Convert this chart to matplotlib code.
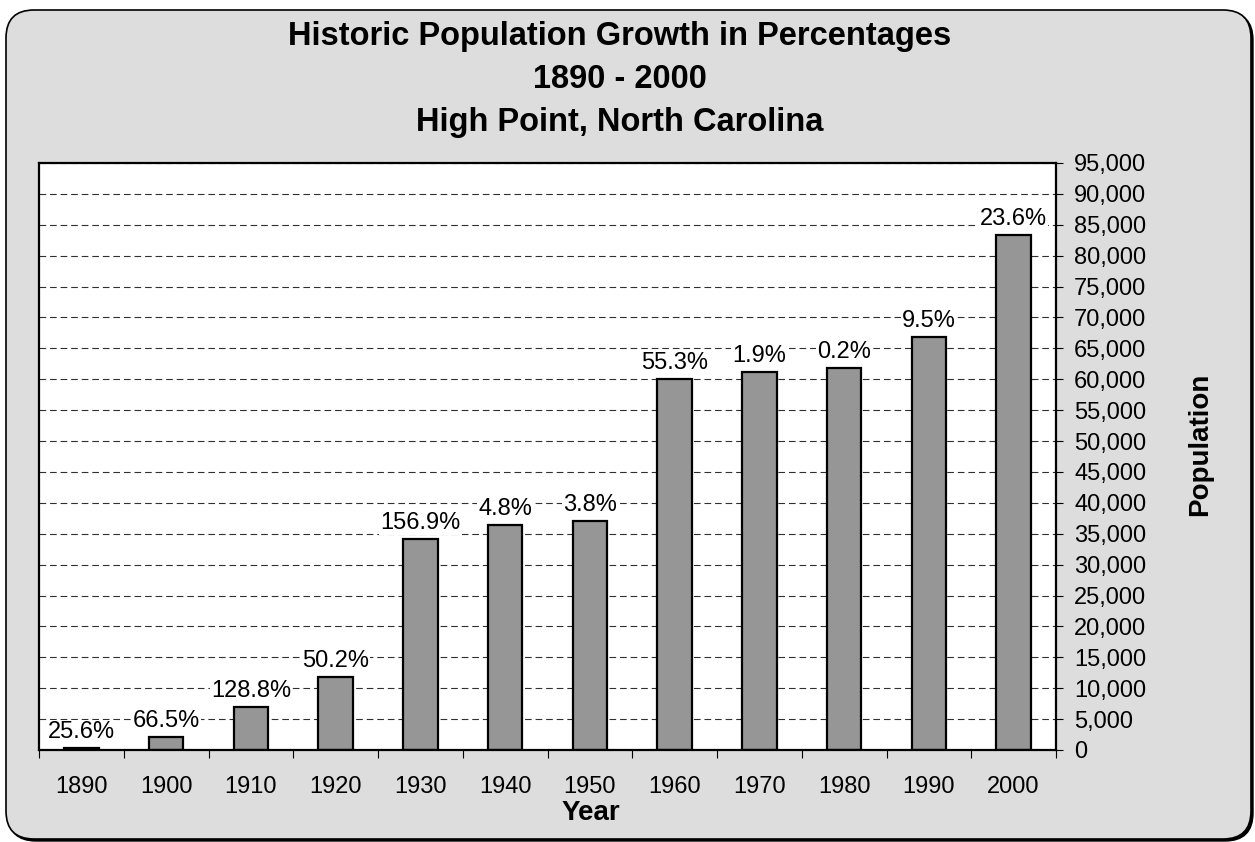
import matplotlib
matplotlib.use("Agg")
import matplotlib.pyplot as plt
from matplotlib.patches import FancyBboxPatch
from matplotlib.ticker import FuncFormatter, MultipleLocator, FixedLocator
import numpy as np

plt.rcParams['font.family'] = ['Liberation Sans', 'DejaVu Sans']

years = ['1890', '1900', '1910', '1920', '1930', '1940', '1950',
         '1960', '1970', '1980', '1990', '2000']
population = [300, 2100, 7000, 11800, 34150, 36400, 37050,
              60050, 61200, 61800, 66900, 83350]
growth_labels = ['25.6%', '66.5%', '128.8%', '50.2%', '156.9%', '4.8%', '3.8%',
                 '55.3%', '1.9%', '0.2%', '9.5%', '23.6%']
title_lines = ['Historic Population Growth in Percentages', '1890 - 2000',
               'High Point, North Carolina']

W, H = 1255, 842
fig = plt.figure(figsize=(W / 100, H / 100), dpi=100)
fig.patch.set_facecolor('white')


def px(v):
    return v / 100.0


shadow = FancyBboxPatch((px(8), px(1)), px(1245), px(829),
                        boxstyle="round,pad=0,rounding_size=0.28",
                        transform=fig.dpi_scale_trans, facecolor='black',
                        edgecolor='black', zorder=0)
panel = FancyBboxPatch((px(6), px(3)), px(1245), px(829),
                       boxstyle="round,pad=0,rounding_size=0.28",
                       transform=fig.dpi_scale_trans, facecolor='#dddddd',
                       edgecolor='black', linewidth=1.2, zorder=1)
fig.patches.extend([shadow, panel])

left, right, top, bottom = 39, 1056, 163, 750
ax = fig.add_axes([left / W, 1 - bottom / H, (right - left) / W, (bottom - top) / H])
ax.set_zorder(2)
ax.set_facecolor('white')

x = np.arange(len(years))
ax.bar(x, population, width=0.41, color='#969696', edgecolor='black',
       linewidth=1.6, zorder=3)

ax.set_xlim(-0.5, len(years) - 0.5)
ax.set_ylim(0, 95000)

ax.yaxis.set_major_locator(MultipleLocator(5000))
ax.grid(axis='y', which='major', linestyle=(0, (6, 3.5)), color='#303030',
        linewidth=0.8, zorder=1)
ax.set_axisbelow(True)

ax.yaxis.tick_right()
ax.yaxis.set_major_formatter(FuncFormatter(lambda v, p: f'{int(v):,}'))
ax.tick_params(axis='y', which='major', direction='out', length=5, width=0.8,
               labelsize=17, pad=8, colors='black')

ax.xaxis.set_major_locator(FixedLocator(np.arange(-0.5, len(years), 1.0)))
ax.xaxis.set_major_formatter(FuncFormatter(lambda v, p: ''))
ax.xaxis.set_minor_locator(FixedLocator(x))
ax.set_xticklabels(years, minor=True)
ax.tick_params(axis='x', which='major', direction='out', length=6, width=0.8)
ax.tick_params(axis='x', which='minor', length=0, labelsize=17, pad=19)

for s in ax.spines.values():
    s.set_linewidth(1.6)
    s.set_color('black')
    s.set_zorder(5)

for xi, val, lab in zip(x, population, growth_labels):
    ax.annotate(lab, (xi, val), xytext=(0, 7), textcoords='offset points',
                ha='center', va='baseline', fontsize=17, zorder=4,
                bbox=dict(boxstyle='square,pad=0.05', fc='white', ec='none'))

title_y = [37, 80, 122]
for line, ty in zip(title_lines, title_y):
    fig.text(620 / W, 1 - ty / H, line, ha='center', va='center',
             fontsize=23.5, fontweight='bold', zorder=5)

fig.text(591 / W, 1 - 813 / H, 'Year', ha='center', va='center',
         fontsize=20, fontweight='bold')
fig.text(1200 / W, 1 - 444 / H, 'Population', ha='center', va='center',
         rotation=90, fontsize=20, fontweight='bold')

fig.savefig('out.png', dpi=100)
